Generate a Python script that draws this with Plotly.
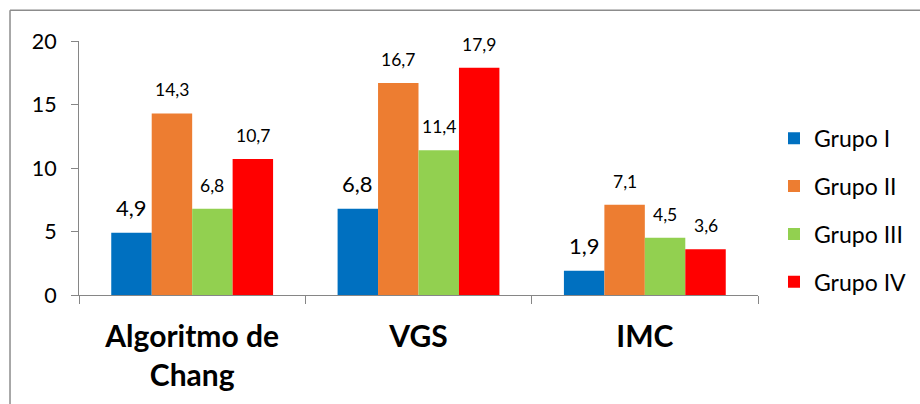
import plotly.graph_objects as go

# Chart data
categories = ["Algoritmo de<br>Chang", "VGS", "IMC"]
groups = ["Grupo I", "Grupo II", "Grupo III", "Grupo IV"]
grupo_i = [4.9, 6.8, 1.9]
grupo_ii = [14.3, 16.7, 7.1]
grupo_iii = [6.8, 11.4, 4.5]
grupo_iv = [10.7, 17.9, 3.6]
y_ticks = [0, 5, 10, 15, 20]

series = [grupo_i, grupo_ii, grupo_iii, grupo_iv]
colors = ["#0070C0", "#ED7D31", "#92D050", "#FF0000"]
label_sizes = [22, 17.5, 17.5, 17.5]
label_shift = [10, 11, 11, 11]

FONT = "Lato, 'Open Sans', sans-serif"
BARGAP = 0.285

fig = go.Figure()
annotations = []
n = len(series)
for i, (name, vals, col) in enumerate(zip(groups, series, colors)):
    fig.add_trace(go.Bar(
        x=categories, y=vals, name=name,
        marker=dict(color=col, line=dict(width=0)),
        offsetgroup=str(i), legendgroup=name,
    ))
    # value labels above each bar
    for j, v in enumerate(vals):
        annotations.append(dict(
            x=j + (i - (n - 1) / 2) * (1 - BARGAP) / n,
            y=v, xref="x", yref="y",
            text=f"{v:.1f}".replace(".", ","),
            showarrow=False, yanchor="bottom", yshift=label_shift[i],
            font=dict(family=FONT, size=label_sizes[i], color="#000000"),
        ))

# outer frame lines of the chart area
shapes = [
    dict(type="line", xref="paper", yref="paper",
         x0=-0.1016, x1=1.25, y0=1.121, y1=1.121,
         line=dict(color="#8C8C8C", width=1.5)),
    dict(type="line", xref="paper", yref="paper",
         x0=-0.1016, x1=-0.1016, y0=1.121, y1=-0.45,
         line=dict(color="#8C8C8C", width=1.5)),
]

fig.update_layout(
    width=920, height=404,
    margin=dict(l=79, r=162, t=41, b=109, autoexpand=False),
    paper_bgcolor="white", plot_bgcolor="white",
    barmode="group", bargap=BARGAP, bargroupgap=0,
    font=dict(family=FONT, color="#000000"),
    annotations=annotations,
    shapes=shapes,
    showlegend=True,
    legend=dict(
        xref="container", x=774 / 920, xanchor="left",
        y=0.702, yanchor="top",
        font=dict(family=FONT, size=23, color="#000000"),
        traceorder="grouped", tracegroupgap=15,
        itemclick=False, itemdoubleclick=False,
    ),
    xaxis=dict(
        type="category",
        showline=True, linecolor="#868686", linewidth=1,
        ticks="outside", tickson="boundaries", ticklen=8, tickcolor="#868686",
        tickfont=dict(family=FONT, size=30, color="#000000", weight="bold"),
        ticklabelstandoff=15,
        showgrid=False, zeroline=False,
    ),
    yaxis=dict(
        range=[0, 20], tickvals=y_ticks,
        showline=True, linecolor="#868686", linewidth=1,
        ticks="outside", ticklen=7, tickcolor="#868686",
        tickfont=dict(family=FONT, size=21.5, color="#000000"),
        ticklabelstandoff=10,
        showgrid=False, zeroline=False,
    ),
)

fig.write_html("out.html")
